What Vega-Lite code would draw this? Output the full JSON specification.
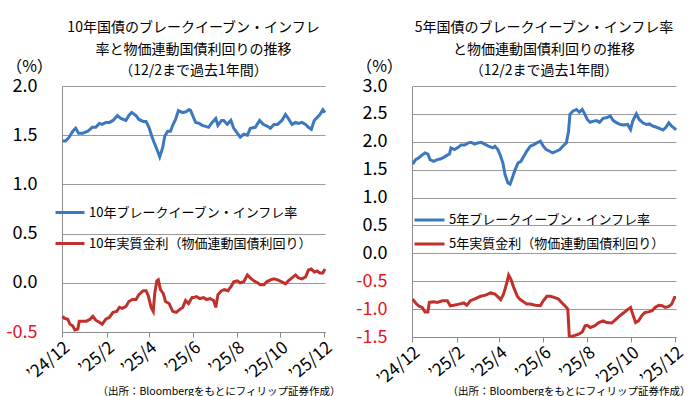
{
  "$schema": "https://vega.github.io/schema/vega-lite/v6.json",
  "background": "white",
  "padding": {"left": 5, "top": 21, "right": 0, "bottom": 0},
  "spacing": 15,
  "resolve": {"scale": {"color": "independent"}, "legend": {"color": "independent"}},
  "config": {
    "font": "Noto Sans CJK JP",
    "view": {"stroke": null},
    "axis": {"labelFont": "Noto Sans CJK JP", "titleFont": "Noto Sans CJK JP", "labelColor": "#000", "titleColor": "#000"},
    "legend": {"labelFont": "Noto Sans CJK JP"},
    "title": {"font": "Noto Sans CJK JP"}
  },
  "datasets": {
    "jp10": [
      {"d":"2024-12-02","s":"b","v":1.44},{"d":"2024-12-06","s":"b","v":1.44},{"d":"2024-12-11","s":"b","v":1.48},{"d":"2024-12-16","s":"b","v":1.54},{"d":"2024-12-20","s":"b","v":1.57},{"d":"2024-12-24","s":"b","v":1.52},{"d":"2024-12-30","s":"b","v":1.52},{"d":"2025-01-06","s":"b","v":1.54},{"d":"2025-01-12","s":"b","v":1.58},{"d":"2025-01-17","s":"b","v":1.58},{"d":"2025-01-22","s":"b","v":1.62},{"d":"2025-01-26","s":"b","v":1.61},{"d":"2025-01-31","s":"b","v":1.63},{"d":"2025-02-05","s":"b","v":1.63},{"d":"2025-02-10","s":"b","v":1.65},{"d":"2025-02-16","s":"b","v":1.70},{"d":"2025-02-21","s":"b","v":1.67},{"d":"2025-02-28","s":"b","v":1.65},{"d":"2025-03-04","s":"b","v":1.70},{"d":"2025-03-08","s":"b","v":1.73},{"d":"2025-03-14","s":"b","v":1.70},{"d":"2025-03-18","s":"b","v":1.66},{"d":"2025-03-24","s":"b","v":1.64},{"d":"2025-03-28","s":"b","v":1.64},{"d":"2025-04-01","s":"b","v":1.58},{"d":"2025-04-05","s":"b","v":1.49},{"d":"2025-04-08","s":"b","v":1.43},{"d":"2025-04-13","s":"b","v":1.34},{"d":"2025-04-16","s":"b","v":1.28},{"d":"2025-04-20","s":"b","v":1.37},{"d":"2025-04-23","s":"b","v":1.49},{"d":"2025-04-27","s":"b","v":1.54},{"d":"2025-05-01","s":"b","v":1.54},{"d":"2025-05-04","s":"b","v":1.60},{"d":"2025-05-08","s":"b","v":1.66},{"d":"2025-05-12","s":"b","v":1.75},{"d":"2025-05-18","s":"b","v":1.73},{"d":"2025-05-23","s":"b","v":1.74},{"d":"2025-05-27","s":"b","v":1.76},{"d":"2025-05-29","s":"b","v":1.75},{"d":"2025-06-02","s":"b","v":1.68},{"d":"2025-06-05","s":"b","v":1.63},{"d":"2025-06-10","s":"b","v":1.62},{"d":"2025-06-14","s":"b","v":1.60},{"d":"2025-06-19","s":"b","v":1.59},{"d":"2025-06-23","s":"b","v":1.58},{"d":"2025-06-28","s":"b","v":1.63},{"d":"2025-07-03","s":"b","v":1.67},{"d":"2025-07-06","s":"b","v":1.60},{"d":"2025-07-11","s":"b","v":1.65},{"d":"2025-07-14","s":"b","v":1.65},{"d":"2025-07-19","s":"b","v":1.61},{"d":"2025-07-24","s":"b","v":1.65},{"d":"2025-07-28","s":"b","v":1.57},{"d":"2025-08-02","s":"b","v":1.52},{"d":"2025-08-06","s":"b","v":1.48},{"d":"2025-08-11","s":"b","v":1.51},{"d":"2025-08-16","s":"b","v":1.50},{"d":"2025-08-20","s":"b","v":1.57},{"d":"2025-08-27","s":"b","v":1.58},{"d":"2025-09-02","s":"b","v":1.65},{"d":"2025-09-07","s":"b","v":1.61},{"d":"2025-09-13","s":"b","v":1.59},{"d":"2025-09-17","s":"b","v":1.57},{"d":"2025-09-22","s":"b","v":1.61},{"d":"2025-09-27","s":"b","v":1.61},{"d":"2025-10-03","s":"b","v":1.65},{"d":"2025-10-08","s":"b","v":1.71},{"d":"2025-10-12","s":"b","v":1.67},{"d":"2025-10-17","s":"b","v":1.61},{"d":"2025-10-22","s":"b","v":1.63},{"d":"2025-10-26","s":"b","v":1.62},{"d":"2025-10-31","s":"b","v":1.63},{"d":"2025-11-05","s":"b","v":1.61},{"d":"2025-11-09","s":"b","v":1.58},{"d":"2025-11-13","s":"b","v":1.56},{"d":"2025-11-17","s":"b","v":1.65},{"d":"2025-11-21","s":"b","v":1.68},{"d":"2025-11-25","s":"b","v":1.71},{"d":"2025-11-29","s":"b","v":1.76},{"d":"2025-12-02","s":"b","v":1.73},
      {"d":"2024-12-02","s":"r","v":-0.34},{"d":"2024-12-04","s":"r","v":-0.36},{"d":"2024-12-09","s":"r","v":-0.37},{"d":"2024-12-12","s":"r","v":-0.42},{"d":"2024-12-16","s":"r","v":-0.44},{"d":"2024-12-19","s":"r","v":-0.48},{"d":"2024-12-23","s":"r","v":-0.47},{"d":"2024-12-25","s":"r","v":-0.39},{"d":"2024-12-30","s":"r","v":-0.39},{"d":"2025-01-04","s":"r","v":-0.39},{"d":"2025-01-09","s":"r","v":-0.37},{"d":"2025-01-13","s":"r","v":-0.34},{"d":"2025-01-17","s":"r","v":-0.38},{"d":"2025-01-22","s":"r","v":-0.40},{"d":"2025-01-26","s":"r","v":-0.42},{"d":"2025-01-31","s":"r","v":-0.37},{"d":"2025-02-05","s":"r","v":-0.35},{"d":"2025-02-10","s":"r","v":-0.30},{"d":"2025-02-15","s":"r","v":-0.29},{"d":"2025-02-19","s":"r","v":-0.25},{"d":"2025-02-23","s":"r","v":-0.26},{"d":"2025-02-28","s":"r","v":-0.24},{"d":"2025-03-04","s":"r","v":-0.19},{"d":"2025-03-09","s":"r","v":-0.17},{"d":"2025-03-14","s":"r","v":-0.17},{"d":"2025-03-18","s":"r","v":-0.12},{"d":"2025-03-24","s":"r","v":-0.08},{"d":"2025-03-28","s":"r","v":-0.08},{"d":"2025-03-31","s":"r","v":-0.13},{"d":"2025-04-04","s":"r","v":-0.25},{"d":"2025-04-07","s":"r","v":-0.29},{"d":"2025-04-09","s":"r","v":-0.11},{"d":"2025-04-12","s":"r","v":0.02},{"d":"2025-04-14","s":"r","v":0.03},{"d":"2025-04-17","s":"r","v":-0.07},{"d":"2025-04-21","s":"r","v":-0.11},{"d":"2025-04-24","s":"r","v":-0.19},{"d":"2025-04-29","s":"r","v":-0.21},{"d":"2025-05-04","s":"r","v":-0.29},{"d":"2025-05-09","s":"r","v":-0.30},{"d":"2025-05-14","s":"r","v":-0.27},{"d":"2025-05-18","s":"r","v":-0.25},{"d":"2025-05-22","s":"r","v":-0.18},{"d":"2025-05-26","s":"r","v":-0.21},{"d":"2025-05-31","s":"r","v":-0.15},{"d":"2025-06-02","s":"r","v":-0.15},{"d":"2025-06-06","s":"r","v":-0.14},{"d":"2025-06-11","s":"r","v":-0.16},{"d":"2025-06-16","s":"r","v":-0.15},{"d":"2025-06-20","s":"r","v":-0.17},{"d":"2025-06-25","s":"r","v":-0.16},{"d":"2025-06-30","s":"r","v":-0.18},{"d":"2025-07-03","s":"r","v":-0.25},{"d":"2025-07-06","s":"r","v":-0.12},{"d":"2025-07-11","s":"r","v":-0.08},{"d":"2025-07-15","s":"r","v":-0.07},{"d":"2025-07-20","s":"r","v":-0.08},{"d":"2025-07-25","s":"r","v":-0.03},{"d":"2025-07-28","s":"r","v":0.01},{"d":"2025-08-02","s":"r","v":0.02},{"d":"2025-08-06","s":"r","v":0.00},{"d":"2025-08-11","s":"r","v":0.01},{"d":"2025-08-16","s":"r","v":0.08},{"d":"2025-08-20","s":"r","v":0.05},{"d":"2025-08-25","s":"r","v":0.02},{"d":"2025-08-30","s":"r","v":0.00},{"d":"2025-09-03","s":"r","v":-0.02},{"d":"2025-09-08","s":"r","v":-0.02},{"d":"2025-09-12","s":"r","v":0.01},{"d":"2025-09-17","s":"r","v":0.03},{"d":"2025-09-22","s":"r","v":0.04},{"d":"2025-09-27","s":"r","v":0.03},{"d":"2025-10-03","s":"r","v":0.01},{"d":"2025-10-08","s":"r","v":-0.01},{"d":"2025-10-12","s":"r","v":0.02},{"d":"2025-10-17","s":"r","v":0.05},{"d":"2025-10-22","s":"r","v":0.08},{"d":"2025-10-26","s":"r","v":0.05},{"d":"2025-10-31","s":"r","v":0.04},{"d":"2025-11-05","s":"r","v":0.06},{"d":"2025-11-09","s":"r","v":0.13},{"d":"2025-11-13","s":"r","v":0.14},{"d":"2025-11-17","s":"r","v":0.11},{"d":"2025-11-21","s":"r","v":0.12},{"d":"2025-11-25","s":"r","v":0.10},{"d":"2025-11-29","s":"r","v":0.10},{"d":"2025-12-02","s":"r","v":0.14}
    ],
    "jp5": [
      {"d":"2024-12-02","s":"b","v":1.60},{"d":"2024-12-06","s":"b","v":1.68},{"d":"2024-12-10","s":"b","v":1.71},{"d":"2024-12-15","s":"b","v":1.76},{"d":"2024-12-19","s":"b","v":1.80},{"d":"2024-12-23","s":"b","v":1.78},{"d":"2024-12-26","s":"b","v":1.68},{"d":"2024-12-31","s":"b","v":1.65},{"d":"2025-01-05","s":"b","v":1.68},{"d":"2025-01-09","s":"b","v":1.69},{"d":"2025-01-14","s":"b","v":1.72},{"d":"2025-01-19","s":"b","v":1.76},{"d":"2025-01-22","s":"b","v":1.78},{"d":"2025-01-24","s":"b","v":1.89},{"d":"2025-01-29","s":"b","v":1.86},{"d":"2025-02-03","s":"b","v":1.90},{"d":"2025-02-07","s":"b","v":1.94},{"d":"2025-02-12","s":"b","v":1.94},{"d":"2025-02-17","s":"b","v":1.98},{"d":"2025-02-21","s":"b","v":1.99},{"d":"2025-02-26","s":"b","v":1.96},{"d":"2025-03-02","s":"b","v":1.98},{"d":"2025-03-07","s":"b","v":1.99},{"d":"2025-03-13","s":"b","v":1.95},{"d":"2025-03-17","s":"b","v":1.92},{"d":"2025-03-23","s":"b","v":1.89},{"d":"2025-03-26","s":"b","v":1.92},{"d":"2025-03-30","s":"b","v":1.86},{"d":"2025-04-02","s":"b","v":1.77},{"d":"2025-04-06","s":"b","v":1.62},{"d":"2025-04-09","s":"b","v":1.41},{"d":"2025-04-13","s":"b","v":1.26},{"d":"2025-04-16","s":"b","v":1.24},{"d":"2025-04-19","s":"b","v":1.35},{"d":"2025-04-23","s":"b","v":1.50},{"d":"2025-04-27","s":"b","v":1.62},{"d":"2025-05-01","s":"b","v":1.65},{"d":"2025-05-05","s":"b","v":1.74},{"d":"2025-05-09","s":"b","v":1.83},{"d":"2025-05-14","s":"b","v":1.92},{"d":"2025-05-19","s":"b","v":1.95},{"d":"2025-05-23","s":"b","v":1.98},{"d":"2025-05-28","s":"b","v":2.01},{"d":"2025-06-01","s":"b","v":1.92},{"d":"2025-06-05","s":"b","v":1.86},{"d":"2025-06-10","s":"b","v":1.83},{"d":"2025-06-14","s":"b","v":1.80},{"d":"2025-06-19","s":"b","v":1.83},{"d":"2025-06-24","s":"b","v":1.86},{"d":"2025-06-28","s":"b","v":1.92},{"d":"2025-07-03","s":"b","v":1.98},{"d":"2025-07-06","s":"b","v":2.19},{"d":"2025-07-08","s":"b","v":2.49},{"d":"2025-07-12","s":"b","v":2.55},{"d":"2025-07-17","s":"b","v":2.58},{"d":"2025-07-21","s":"b","v":2.53},{"d":"2025-07-25","s":"b","v":2.58},{"d":"2025-07-28","s":"b","v":2.51},{"d":"2025-08-01","s":"b","v":2.40},{"d":"2025-08-05","s":"b","v":2.35},{"d":"2025-08-10","s":"b","v":2.37},{"d":"2025-08-14","s":"b","v":2.38},{"d":"2025-08-18","s":"b","v":2.35},{"d":"2025-08-23","s":"b","v":2.42},{"d":"2025-08-27","s":"b","v":2.43},{"d":"2025-09-02","s":"b","v":2.46},{"d":"2025-09-06","s":"b","v":2.38},{"d":"2025-09-11","s":"b","v":2.34},{"d":"2025-09-16","s":"b","v":2.31},{"d":"2025-09-20","s":"b","v":2.30},{"d":"2025-09-26","s":"b","v":2.31},{"d":"2025-09-30","s":"b","v":2.22},{"d":"2025-10-03","s":"b","v":2.37},{"d":"2025-10-08","s":"b","v":2.50},{"d":"2025-10-12","s":"b","v":2.40},{"d":"2025-10-17","s":"b","v":2.34},{"d":"2025-10-22","s":"b","v":2.31},{"d":"2025-10-26","s":"b","v":2.32},{"d":"2025-10-31","s":"b","v":2.28},{"d":"2025-11-05","s":"b","v":2.26},{"d":"2025-11-09","s":"b","v":2.24},{"d":"2025-11-14","s":"b","v":2.21},{"d":"2025-11-18","s":"b","v":2.26},{"d":"2025-11-22","s":"b","v":2.34},{"d":"2025-11-26","s":"b","v":2.28},{"d":"2025-11-30","s":"b","v":2.24},{"d":"2025-12-02","s":"b","v":2.21},
      {"d":"2024-12-02","s":"r","v":-0.82},{"d":"2024-12-06","s":"r","v":-0.89},{"d":"2024-12-10","s":"r","v":-0.94},{"d":"2024-12-15","s":"r","v":-0.97},{"d":"2024-12-19","s":"r","v":-1.05},{"d":"2024-12-23","s":"r","v":-1.05},{"d":"2024-12-25","s":"r","v":-0.88},{"d":"2024-12-31","s":"r","v":-0.87},{"d":"2025-01-05","s":"r","v":-0.88},{"d":"2025-01-12","s":"r","v":-0.85},{"d":"2025-01-19","s":"r","v":-0.85},{"d":"2025-01-23","s":"r","v":-0.94},{"d":"2025-01-28","s":"r","v":-0.93},{"d":"2025-02-04","s":"r","v":-0.91},{"d":"2025-02-11","s":"r","v":-0.89},{"d":"2025-02-15","s":"r","v":-0.93},{"d":"2025-02-20","s":"r","v":-0.85},{"d":"2025-02-27","s":"r","v":-0.81},{"d":"2025-03-06","s":"r","v":-0.77},{"d":"2025-03-13","s":"r","v":-0.75},{"d":"2025-03-20","s":"r","v":-0.71},{"d":"2025-03-26","s":"r","v":-0.73},{"d":"2025-03-31","s":"r","v":-0.79},{"d":"2025-04-03","s":"r","v":-0.83},{"d":"2025-04-07","s":"r","v":-0.73},{"d":"2025-04-11","s":"r","v":-0.55},{"d":"2025-04-14","s":"r","v":-0.39},{"d":"2025-04-17","s":"r","v":-0.46},{"d":"2025-04-21","s":"r","v":-0.61},{"d":"2025-04-26","s":"r","v":-0.77},{"d":"2025-04-30","s":"r","v":-0.83},{"d":"2025-05-05","s":"r","v":-0.87},{"d":"2025-05-09","s":"r","v":-0.91},{"d":"2025-05-14","s":"r","v":-0.91},{"d":"2025-05-21","s":"r","v":-0.93},{"d":"2025-05-28","s":"r","v":-0.94},{"d":"2025-06-01","s":"r","v":-0.85},{"d":"2025-06-06","s":"r","v":-0.77},{"d":"2025-06-11","s":"r","v":-0.77},{"d":"2025-06-16","s":"r","v":-0.79},{"d":"2025-06-22","s":"r","v":-0.82},{"d":"2025-06-27","s":"r","v":-0.89},{"d":"2025-07-01","s":"r","v":-0.94},{"d":"2025-07-05","s":"r","v":-1.00},{"d":"2025-07-07","s":"r","v":-1.48},{"d":"2025-07-11","s":"r","v":-1.49},{"d":"2025-07-15","s":"r","v":-1.47},{"d":"2025-07-20","s":"r","v":-1.45},{"d":"2025-07-25","s":"r","v":-1.41},{"d":"2025-07-29","s":"r","v":-1.30},{"d":"2025-08-01","s":"r","v":-1.29},{"d":"2025-08-05","s":"r","v":-1.33},{"d":"2025-08-11","s":"r","v":-1.30},{"d":"2025-08-17","s":"r","v":-1.24},{"d":"2025-08-23","s":"r","v":-1.21},{"d":"2025-08-28","s":"r","v":-1.24},{"d":"2025-09-04","s":"r","v":-1.25},{"d":"2025-09-10","s":"r","v":-1.18},{"d":"2025-09-16","s":"r","v":-1.11},{"d":"2025-09-21","s":"r","v":-1.06},{"d":"2025-09-26","s":"r","v":-1.01},{"d":"2025-09-30","s":"r","v":-0.97},{"d":"2025-10-03","s":"r","v":-1.09},{"d":"2025-10-07","s":"r","v":-1.24},{"d":"2025-10-11","s":"r","v":-1.21},{"d":"2025-10-16","s":"r","v":-1.11},{"d":"2025-10-20","s":"r","v":-1.06},{"d":"2025-10-25","s":"r","v":-1.05},{"d":"2025-10-30","s":"r","v":-1.03},{"d":"2025-11-03","s":"r","v":-0.97},{"d":"2025-11-08","s":"r","v":-0.93},{"d":"2025-11-13","s":"r","v":-0.94},{"d":"2025-11-17","s":"r","v":-0.97},{"d":"2025-11-22","s":"r","v":-0.95},{"d":"2025-11-26","s":"r","v":-0.91},{"d":"2025-11-30","s":"r","v":-0.79},{"d":"2025-12-02","s":"r","v":-0.79}
    ]
  },
  "hconcat": [
    {
      "width": 263,
      "height": 246,
      "title": {"text": ["10年国債のブレークイーブン・インフレ", "率と物価連動国債利回りの推移", "（12/2まで過去1年間）"], "fontSize": 14, "fontWeight": "normal", "lineHeight": 21.5, "anchor": "middle", "offset": -20, "color": "#000"},
      "data": {"name": "jp10"},
      "mark": {"type": "line", "strokeWidth": 3},
      "encoding": {
        "x": {
          "field": "d", "type": "temporal",
          "scale": {"type": "utc", "domain": [{"year": 2024, "month": 12, "date": 1, "utc": true}, {"year": 2025, "month": 12, "date": 2, "utc": true}]},
          "axis": {
            "values": [{"year": 2024, "month": 12, "date": 1, "utc": true}, {"year": 2025, "month": 2, "date": 1, "utc": true}, {"year": 2025, "month": 4, "date": 1, "utc": true}, {"year": 2025, "month": 6, "date": 1, "utc": true}, {"year": 2025, "month": 8, "date": 1, "utc": true}, {"year": 2025, "month": 10, "date": 1, "utc": true}, {"year": 2025, "month": 12, "date": 1, "utc": true}],
            "labelExpr": "'’' + utcFormat(datum.value, '%y/%-m')",
            "labelAngle": -40, "labelFontSize": 17, "labelPadding": 2, "labelOverlap": false, "labelFlush": false, "labelBound": false,
            "tickSize": 5, "tickColor": "#8c8c8c", "domainColor": "#8c8c8c", "grid": false,
            "title": "（出所：Bloombergをもとにフィリップ証券作成）",
            "titleFontSize": 10.5, "titleFontWeight": "normal", "titleAlign": "right", "titleAnchor": "end",
            "titleX": 278, "titleY": 59, "titleBaseline": "middle"
          }
        },
        "y": {
          "field": "v", "type": "quantitative",
          "scale": {"domain": [-0.5, 2.0], "nice": false, "zero": false},
          "axis": {
            "values": [-0.5, 0, 0.5, 1, 1.5, 2],
            "labelExpr": "replace(format(datum.value, '.1f'), '−', '-')",
            "labelColor": {"condition": {"test": "datum.value < 0", "value": "#e8141b"}, "value": "#000000"},
            "labelFontSize": 18, "labelPadding": 25, "ticks": false,
            "grid": true, "gridColor": "#9a9a9a", "domainColor": "#8c8c8c",
            "title": "（%）", "titleAngle": 0, "titleX": -33, "titleY": -20, "titleAlign": "center", "titleBaseline": "middle", "titleFontSize": 16, "titleFontWeight": "normal"
          }
        },
        "color": {
          "field": "s", "type": "nominal",
          "scale": {"domain": ["b", "r"], "range": ["#3c78bf", "#c0312c"]},
          "legend": {
            "orient": "none", "legendX": -8, "legendY": 110.5, "title": null, "padding": 0,
            "symbolType": "stroke", "symbolSize": 841, "symbolStrokeWidth": 3,
            "labelFontSize": 13, "labelOffset": 3, "rowPadding": 8, "labelLimit": 400, "labelColor": "#000",
            "labelExpr": "datum.value == 'b' ? '10年ブレークイーブン・インフレ率' : '10年実質金利（物価連動国債利回り）'"
          }
        }
      }
    },
    {
      "width": 264,
      "height": 251,
      "title": {"text": ["5年国債のブレークイーブン・インフレ率", "と物価連動国債利回りの推移", "（12/2まで過去1年間）"], "fontSize": 14, "fontWeight": "normal", "lineHeight": 21.5, "anchor": "middle", "offset": -20, "color": "#000"},
      "data": {"name": "jp5"},
      "mark": {"type": "line", "strokeWidth": 3},
      "encoding": {
        "x": {
          "field": "d", "type": "temporal",
          "scale": {"type": "utc", "domain": [{"year": 2024, "month": 12, "date": 1, "utc": true}, {"year": 2025, "month": 12, "date": 2, "utc": true}]},
          "axis": {
            "values": [{"year": 2024, "month": 12, "date": 1, "utc": true}, {"year": 2025, "month": 2, "date": 1, "utc": true}, {"year": 2025, "month": 4, "date": 1, "utc": true}, {"year": 2025, "month": 6, "date": 1, "utc": true}, {"year": 2025, "month": 8, "date": 1, "utc": true}, {"year": 2025, "month": 10, "date": 1, "utc": true}, {"year": 2025, "month": 12, "date": 1, "utc": true}],
            "labelExpr": "'’' + utcFormat(datum.value, '%y/%-m')",
            "labelAngle": -40, "labelFontSize": 17, "labelPadding": 2, "labelOverlap": false, "labelFlush": false, "labelBound": false,
            "tickSize": 5, "tickColor": "#8c8c8c", "domainColor": "#8c8c8c", "grid": false,
            "title": "（出所：Bloombergをもとにフィリップ証券作成）",
            "titleFontSize": 10.5, "titleFontWeight": "normal", "titleAlign": "right", "titleAnchor": "end",
            "titleX": 278, "titleY": 54, "titleBaseline": "middle"
          }
        },
        "y": {
          "field": "v", "type": "quantitative",
          "scale": {"domain": [-1.5, 3.0], "nice": false, "zero": false},
          "axis": {
            "values": [-1.5, -1, -0.5, 0, 0.5, 1, 1.5, 2, 2.5, 3],
            "labelExpr": "replace(format(datum.value, '.1f'), '−', '-')",
            "labelColor": {"condition": {"test": "datum.value < 0", "value": "#e8141b"}, "value": "#000000"},
            "labelFontSize": 18, "labelPadding": 25, "ticks": false,
            "grid": true, "gridColor": "#9a9a9a", "domainColor": "#8c8c8c",
            "title": "（%）", "titleAngle": 0, "titleX": -33, "titleY": -20, "titleAlign": "center", "titleBaseline": "middle", "titleFontSize": 16, "titleFontWeight": "normal"
          }
        },
        "color": {
          "field": "s", "type": "nominal",
          "scale": {"domain": ["b", "r"], "range": ["#3c78bf", "#c0312c"]},
          "legend": {
            "orient": "none", "legendX": 1, "legendY": 117.5, "title": null, "padding": 0,
            "symbolType": "stroke", "symbolSize": 900, "symbolStrokeWidth": 3,
            "labelFontSize": 13, "labelOffset": 3, "rowPadding": -3, "labelLimit": 400, "labelColor": "#000",
            "labelExpr": "datum.value == 'b' ? '5年ブレークイーブン・インフレ率' : '5年実質金利（物価連動国債利回り）'"
          }
        }
      }
    }
  ]
}
